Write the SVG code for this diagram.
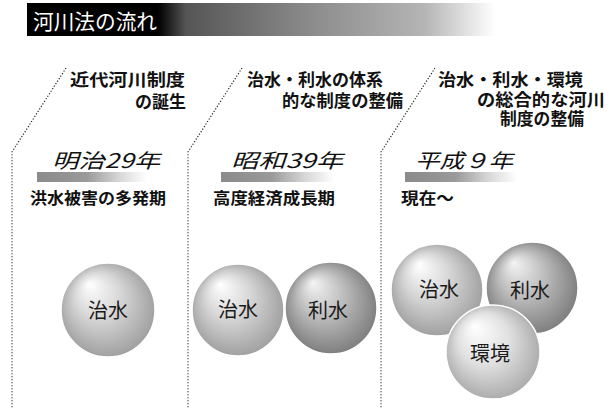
<svg xmlns="http://www.w3.org/2000/svg" width="611" height="408" viewBox="0 0 611 408">
<defs>
<style>
.t{font-family:"Noto Sans CJK JP","Noto Sans CJK SC",sans-serif;fill:#111;}
.b{font-weight:700;font-size:17px;}
.yr{font-size:20px;font-style:italic;font-weight:400;}
.ds{font-weight:700;font-size:16px;}
.bl{font-size:20px;font-weight:400;fill:#1a1a1a;}
.dot{fill:none;stroke:#222;stroke-width:1.2;stroke-dasharray:1.2 1.8;}
.ball{stroke:#fff;stroke-width:1.5;}
</style>
<linearGradient id="hdr" gradientUnits="userSpaceOnUse" x1="27" y1="0" x2="495" y2="0">
<stop offset="0" stop-color="#000"/>
<stop offset="0.28" stop-color="#000"/>
<stop offset="0.34" stop-color="#555"/>
<stop offset="0.6" stop-color="#8a8a8a"/>
<stop offset="0.85" stop-color="#b5b5b5"/>
<stop offset="1" stop-color="#fff"/>
</linearGradient>
<linearGradient id="ul" x1="0" y1="0" x2="1" y2="0">
<stop offset="0" stop-color="#8a8a8a"/>
<stop offset="0.45" stop-color="#9a9a9a"/>
<stop offset="0.75" stop-color="#d8d8d8"/>
<stop offset="1" stop-color="#fff"/>
</linearGradient>
<radialGradient id="g1" cx="0.5" cy="0.5" r="0.55" fx="0.3" fy="0.22">
<stop offset="0" stop-color="#fff"/>
<stop offset="0.45" stop-color="#d6d6d6"/>
<stop offset="1" stop-color="#9a9a9a"/>
</radialGradient>
<radialGradient id="g2" cx="0.5" cy="0.5" r="0.55" fx="0.3" fy="0.22">
<stop offset="0" stop-color="#f4f4f4"/>
<stop offset="0.45" stop-color="#bdbdbd"/>
<stop offset="1" stop-color="#777"/>
</radialGradient>
<radialGradient id="g3" cx="0.5" cy="0.5" r="0.55" fx="0.3" fy="0.22">
<stop offset="0" stop-color="#fff"/>
<stop offset="0.5" stop-color="#e0e0e0"/>
<stop offset="1" stop-color="#a5a5a5"/>
</radialGradient>
</defs>
<rect width="611" height="408" fill="#fff"/>

<g id="header">
<rect x="27" y="3" width="468" height="33" fill="url(#hdr)"/>
<text class="t" x="33" y="29" font-size="21" textLength="124" lengthAdjust="spacingAndGlyphs" style="fill:#fff">河川法の流れ</text>
</g>

<g id="connectors">
<polyline class="dot" points="66,68 12,152 12,408"/>
<polyline class="dot" points="242,68 188,152 188,408"/>
<polyline class="dot" points="435,68 381,152 381,408"/>
</g>

<g id="period1">
<text class="t b" x="70" y="86" textLength="115" lengthAdjust="spacingAndGlyphs">近代河川制度</text>
<text class="t b" x="186" y="108" text-anchor="end">の誕生</text>
<text class="t yr" x="52" y="168" textLength="108" lengthAdjust="spacingAndGlyphs">明治29年</text>
<rect x="37" y="172" width="110" height="10" fill="url(#ul)"/>
<text class="t ds" x="30" y="204" textLength="136" lengthAdjust="spacingAndGlyphs">洪水被害の多発期</text>
</g>

<g id="period2">
<text class="t b" x="247" y="86" textLength="136" lengthAdjust="spacingAndGlyphs">治水・利水の体系</text>
<text class="t b" x="282" y="107" textLength="121" lengthAdjust="spacingAndGlyphs">的な制度の整備</text>
<text class="t yr" x="231" y="168" textLength="112" lengthAdjust="spacingAndGlyphs">昭和39年</text>
<rect x="221" y="172" width="113" height="10" fill="url(#ul)"/>
<text class="t ds" x="213" y="204" textLength="122" lengthAdjust="spacingAndGlyphs">高度経済成長期</text>
</g>

<g id="period3">
<text class="t b" x="438" y="86" textLength="145" lengthAdjust="spacingAndGlyphs">治水・利水・環境</text>
<text class="t b" x="477" y="106" textLength="128" lengthAdjust="spacingAndGlyphs">の総合的な河川</text>
<text class="t b" x="500" y="125" textLength="84" lengthAdjust="spacingAndGlyphs">制度の整備</text>
<text class="t yr" x="415" y="168" textLength="98" lengthAdjust="spacingAndGlyphs">平成９年</text>
<rect x="405" y="172" width="112" height="10" fill="url(#ul)"/>
<text class="t ds" x="401" y="204" textLength="53" lengthAdjust="spacingAndGlyphs">現在～</text>
</g>

<g id="ball1-chisui">
<circle class="ball" cx="108" cy="310" r="47" fill="url(#g1)"/>
<text class="t bl" x="108" y="318" text-anchor="middle">治水</text>
</g>
<g id="ball2-chisui">
<circle class="ball" cx="238" cy="310" r="46" fill="url(#g1)"/>
<text class="t bl" x="238" y="317" text-anchor="middle">治水</text>
</g>
<g id="ball2-risui">
<circle class="ball" cx="331" cy="308" r="46" fill="url(#g2)"/>
<text class="t bl" x="328" y="318" text-anchor="middle">利水</text>
</g>
<g id="ball3-chisui">
<circle class="ball" cx="437" cy="290" r="46" fill="url(#g1)"/>
<text class="t bl" x="439" y="297" text-anchor="middle">治水</text>
</g>
<g id="ball3-risui">
<circle class="ball" cx="532" cy="288" r="46" fill="url(#g2)"/>
<text class="t bl" x="530" y="298" text-anchor="middle">利水</text>
</g>
<g id="ball3-kankyo">
<circle class="ball" cx="493" cy="352" r="47" stroke-width="3" fill="url(#g3)"/>
<text class="t bl" x="490" y="361" text-anchor="middle">環境</text>
</g>
</svg>
